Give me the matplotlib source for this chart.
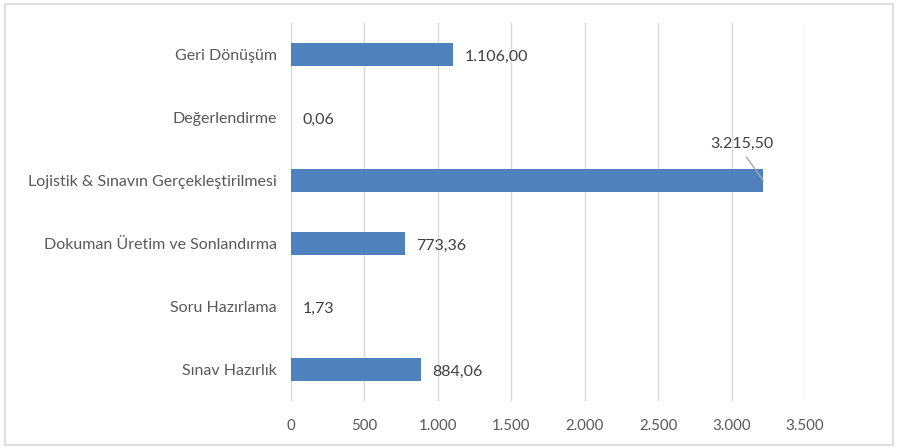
import matplotlib.pyplot as plt
import matplotlib.patches as mpatches
from matplotlib.ticker import FuncFormatter

plt.rcParams['font.family'] = ['Lato', 'DejaVu Sans']

categories = ['Sınav Hazırlık', 'Soru Hazırlama', 'Dokuman Üretim ve Sonlandırma',
              'Lojistik & Sınavın Gerçekleştirilmesi', 'Değerlendirme', 'Geri Dönüşüm']
values = [884.06, 1.73, 773.36, 3215.50, 0.06, 1106.00]
x_ticks = [0, 500, 1000, 1500, 2000, 2500, 3000, 3500]


def tr_num(v, dec=2):
    s = f'{v:,.{dec}f}'
    return s.replace(',', 'X').replace('.', ',').replace('X', '.')


fig = plt.figure(figsize=(8.97, 4.48), dpi=100)
ax = fig.add_axes([291 / 897, 1 - 401 / 448, (805 - 291) / 897, (401 - 23) / 448])

ypos = list(range(len(categories)))
ax.barh(ypos, values, height=0.37, color='#4F81BD', linewidth=0, zorder=3)

ax.set_xlim(0, 3500)
ax.set_ylim(-0.5, len(categories) - 0.5)
ax.set_xticks(x_ticks)
ax.xaxis.set_major_formatter(FuncFormatter(lambda v, p: tr_num(v, 0)))
ax.set_yticks(ypos)
ax.set_yticklabels(categories)
ax.grid(axis='x', color='#d9d9d9', linewidth=1, zorder=0)
for s in ax.spines.values():
    s.set_visible(False)
ax.tick_params(axis='both', length=0, colors='#595959')
ax.tick_params(axis='y', labelsize=11.5, pad=10)
ax.tick_params(axis='x', labelsize=10.8, pad=13)

# value labels
for y, v in zip(ypos, values):
    if v > 3000:
        ax.annotate(tr_num(v), xy=(v, y), xytext=(-15, 21), textcoords='offset points',
                    ha='center', va='bottom', fontsize=11.5, color='#404040',
                    arrowprops=dict(arrowstyle='-', color='#a6a6a6', lw=1,
                                    relpos=(0.5, 0), patchA=None,
                                    shrinkA=5, shrinkB=0))
    else:
        ax.annotate(tr_num(v), xy=(v, y), xytext=(8, -1.5), textcoords='offset points',
                    ha='left', va='center', fontsize=11.5, color='#404040')

# outer chart border
fig.patches.append(mpatches.Rectangle((5 / 897, 3 / 448), 888 / 897, 441 / 448,
                                      transform=fig.transFigure, fill=False,
                                      edgecolor='#d9d9d9', linewidth=1.2))

fig.savefig('out.png', dpi=100)
